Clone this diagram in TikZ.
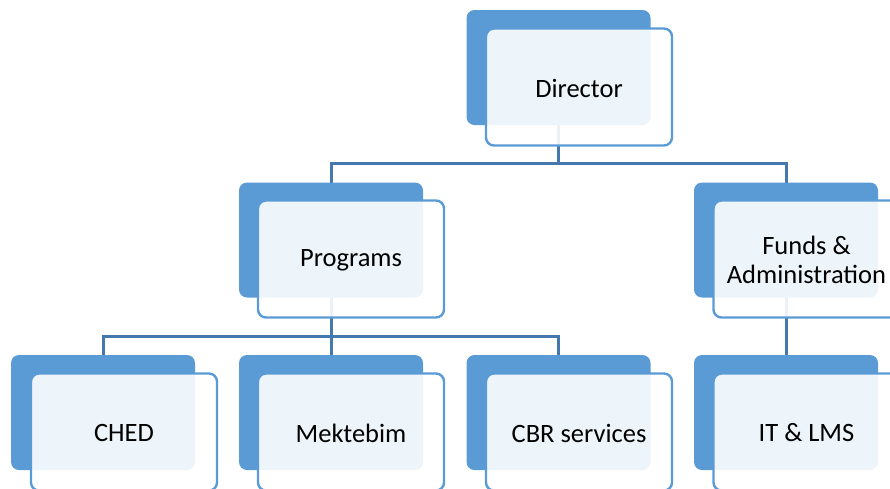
\documentclass[tikz,border=0pt]{standalone}
\usepackage{fontspec}
\setmainfont{Carlito}
\definecolor{accent}{HTML}{5B9BD5}
\definecolor{connc}{HTML}{4478AE}
\pgfdeclarelayer{bg}
\pgfsetlayers{bg,main}
\begin{document}
\begin{tikzpicture}[x=1pt,y=-1pt,
  backbox/.style={draw=none,fill=accent,rounded corners=8pt,minimum width=184pt,minimum height=115pt,inner sep=0pt},
  frontbox/.style={draw=accent,line width=2.4pt,fill=white,fill opacity=0.9,draw opacity=1,rounded corners=8pt,minimum width=186pt,minimum height=117pt,inner sep=0pt},
  boxtext/.style={inner sep=0pt,align=center,yshift=-1pt,font=\fontsize{26.5pt}{28.5pt}\selectfont},
  conn/.style={draw=connc,line width=3pt}]
\useasboundingbox (0,0) rectangle (890,488);
\clip (0,0) rectangle (890,488);
\coordinate (j1) at (558.5,163);
\coordinate (j2) at (331,336);
% back boxes
\node[backbox] (dirB) at (558.5,67.5) {};
\node[backbox] (progB) at (331,240) {};
\node[backbox] (fundB) at (786,240) {};
\node[backbox] (chedB) at (103,412.5) {};
\node[backbox] (mekB) at (331,412.5) {};
\node[backbox] (cbrB) at (558.5,412.5) {};
\node[backbox] (itB) at (786,412.5) {};
% connectors behind
\begin{pgfonlayer}{bg}
\draw[conn] (dirB.center) -- (j1);
\draw[conn] (progB.center) |- (j1) -| (fundB.center);
\draw[conn] (progB.center) -- (j2);
\draw[conn] (chedB.center) |- (j2) -| (cbrB.center);
\draw[conn] (mekB.center) -- (j2);
\draw[conn] (fundB.center) -- (itB.center);
\end{pgfonlayer}
% front boxes
\node[frontbox] (dirF) at (579,87) {};
\node[frontbox] (progF) at (351,259) {};
\node[frontbox] (fundF) at (806.5,259) {};
\node[frontbox] (chedF) at (124,432) {};
\node[frontbox] (mekF) at (351,432) {};
\node[frontbox] (cbrF) at (579,432) {};
\node[frontbox] (itF) at (806.5,432) {};
% texts
\node[boxtext] (dirT) at (dirF.center) {Director};
\node[boxtext] (progT) at (progF.center) {Programs};
\node[boxtext] (fundT) at (fundF.center) {Funds \&\\Administration};
\node[boxtext] (chedT) at (chedF.center) {CHED};
\node[boxtext] (mekT) at (mekF.center) {Mektebim};
\node[boxtext] (cbrT) at (cbrF.center) {CBR services};
\node[boxtext] (itT) at (itF.center) {IT \& LMS};
\end{tikzpicture}
\end{document}
